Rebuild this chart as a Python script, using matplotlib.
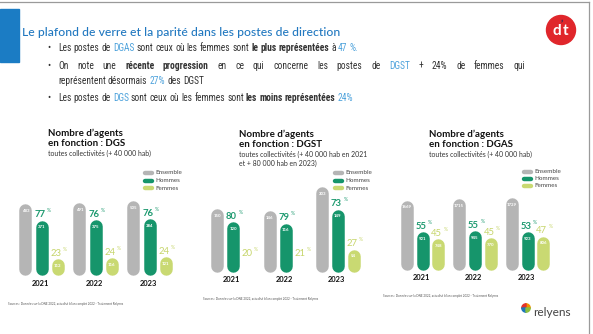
import matplotlib
matplotlib.use("Agg")
import matplotlib.pyplot as plt
from matplotlib import font_manager
from matplotlib.font_manager import FontProperties
from matplotlib.lines import Line2D
from matplotlib.patches import Rectangle, Circle, Wedge
from matplotlib.transforms import IdentityTransform

# donnees
years = ["2021", "2022", "2023"]
series = ["Ensemble", "Hommes", "Femmes"]

dgs_ensemble = [483, 491, 505]
dgs_hommes = [371, 375, 384]
dgs_femmes = [112, 116, 121]
dgs_pct_h = [77, 76, 76]
dgs_pct_f = [23, 24, 24]

dgst_ensemble = [150, 146, 203]
dgst_hommes = [120, 116, 149]
dgst_femmes = [30, 30, 54]
dgst_pct_h = [80, 79, 73]
dgst_pct_f = [20, 21, 27]

dgas_ensemble = [1669, 1715, 1729]
dgas_hommes = [921, 945, 923]
dgas_femmes = [748, 770, 806]
dgas_pct_h = [55, 55, 53]
dgas_pct_f = [45, 45, 47]

titre = "Le plafond de verre et la parité dans les postes de direction"
source = "Sources : Données sur la DNE 2022, actualisé bilan complet 2022 - Traitement Relyens"

W, H = 593, 334
fig = plt.figure(figsize=(W / 100, H / 100), dpi=100)
fig.patch.set_facecolor("white")
R = fig.canvas.get_renderer()

ttf = font_manager.fontManager.ttflist
names = {f.name for f in ttf}
PF = "Lato" if "Lato" in names else "DejaVu Sans"
TF = "Lato" if "Lato" in names else "DejaVu Sans"


def narrow(bold):
    # police etroite pour les puces (type Arial Narrow)
    def is_bold(f):
        w = f.weight if isinstance(f.weight, int) else {"bold": 700}.get(f.weight, 400)
        return w >= 600
    cands = [f for f in ttf if f.style == "normal" and is_bold(f) == bold
             and ("Narrow" in f.name or "Condensed" in f.name
                  or f.stretch in ("condensed", "semi-condensed"))]
    pref = ["Liberation Sans Narrow", "Roboto Condensed", "Open Sans Condensed",
            "DejaVu Sans"]
    for p in pref:
        for f in cands:
            if f.name == p:
                return FontProperties(fname=f.fname)
    if cands:
        return FontProperties(fname=cands[0].fname)
    return FontProperties(family="Liberation Sans", weight="bold" if bold else "normal")


NR = narrow(False)
NB = narrow(True)

GRIS = "#b5b5b5"
VERT = "#16956b"
CLAIR = "#c9d972"
BLEU = "#2178c0"
BLEU_CLAIR = "#4fa3dc"
TEXTE = "#333333"


def fx(x):
    return x / W


def fy(y):
    return 1 - y / H


def fit(t, width):
    w = t.get_window_extent(R).width
    t.set_fontsize(t.get_fontsize() * width / w)
    return t.get_fontsize()


# cadre + bandeau
fig.add_artist(Line2D([0, fx(589)], [fy(2), fy(2)], color="#9a9a9a", lw=0.9))
fig.add_artist(Line2D([fx(589), fx(589)], [fy(2), 0], color="#9a9a9a", lw=0.9))
fig.add_artist(Rectangle((0, fy(62)), fx(19), 53 / H, color="#1b7cc4",
                         transform=fig.transFigure))
t = fig.text(fx(22), fy(33), titre, color=BLEU, fontsize=10, family=TF, va="center",
             fontweight="medium")
fit(t, 316)

# logo dt
fig.add_artist(Circle((561, H - 30), 14.5, color="#e0262b", transform=IdentityTransform()))
fig.text(fx(561), fy(31), "d", color="white", fontsize=11, fontweight="bold",
         family=PF, ha="right", va="center")
fig.text(fx(562.5), fy(31), "t", color="white", fontsize=11, fontweight="bold",
         family=PF, ha="left", va="center")
fig.text(fx(561.5), fy(25), "’", color="#1c2b5a", fontsize=7, fontweight="bold",
         family=PF, ha="center", va="center")


# puces
def ligne(x, y, segs, size, justify=None):
    mots = []
    for txt, col, gras in segs:
        for m in txt.split(" "):
            if m:
                mots.append((m, col, gras))
    arts = [fig.text(0, 0, m, color=c, fontproperties=NB if g else NR, va="baseline")
            for m, c, g in mots]
    for a in arts:
        a.set_fontsize(size)
    larg = [a.get_window_extent(R).width for a in arts]
    a1 = fig.text(0, 0, "x x", fontproperties=NR)
    a2 = fig.text(0, 0, "xx", fontproperties=NR)
    a1.set_fontsize(size)
    a2.set_fontsize(size)
    esp = a1.get_window_extent(R).width - a2.get_window_extent(R).width
    a1.remove()
    a2.remove()
    if justify:
        esp = (justify - sum(larg)) / (len(arts) - 1)
    cx = x
    for a, w in zip(arts, larg):
        a.set_position((fx(cx), fy(y)))
        cx += w + esp
    return cx - esp - x


l1 = [("Les postes de ", TEXTE, False), ("DGAS", BLEU_CLAIR, False),
      (" sont ceux où les femmes sont ", TEXTE, False), ("le plus représentées", TEXTE, True),
      (" à ", TEXTE, False), ("47 %.", BLEU_CLAIR, False)]
l2 = [("On note une ", TEXTE, False), ("récente progression", TEXTE, True),
      (" en ce qui concerne les postes de ", TEXTE, False), ("DGST", BLEU_CLAIR, False),
      (" + 24% de femmes qui", TEXTE, False)]
l3 = [("représentent désormais ", TEXTE, False), ("27%", BLEU_CLAIR, False),
      (" des DGST", TEXTE, False)]
l4 = [("Les postes de ", TEXTE, False), ("DGS", BLEU_CLAIR, False),
      (" sont ceux où les femmes sont ", TEXTE, False), ("les moins représentées", TEXTE, True),
      (" ", TEXTE, False), ("24%", BLEU_CLAIR, False)]

w0 = ligne(0, -50, l1, 8)
for a in list(fig.texts):
    if a.get_position()[1] > 1.0:
        a.remove()
bsize = 8 * 300 / w0
for yy, segs, just in [(51, l1, None), (69, l2, 467), (84, l3, None), (101, l4, None)]:
    ligne(58, yy, segs, bsize, just)
for yy in [51, 69, 101]:
    b = fig.text(fx(49), fy(yy), "•", color=TEXTE, fontproperties=NR,
                 ha="center", va="baseline")
    b.set_fontsize(bsize)

# panneaux
panneaux = [
    dict(nom="DGS", ens=dgs_ensemble, hom=dgs_hommes, fem=dgs_femmes, ph=dgs_pct_h,
         pf=dgs_pct_f, sous=["toutes collectivités (+ 40 000 hab)"],
         tx=48, ty=133, lx=143, ly=[173, 181, 188], base=275, c0=41.5, sp=54,
         k=71 / 483, yr=283, sx=8, sy=304),
    dict(nom="DGST", ens=dgst_ensemble, hom=dgst_hommes, fem=dgst_femmes, ph=dgst_pct_h,
         pf=dgst_pct_f, sous=["toutes collectivités (+ 40 000 hab en 2021",
                              "et + 80 000 hab en 2023)"],
         tx=239, ty=134, lx=333, ly=[173, 181, 188], base=272, c0=233, sp=52.5,
         k=0.42, yr=279, sx=203, sy=299),
    dict(nom="DGAS", ens=dgas_ensemble, hom=dgas_hommes, fem=dgas_femmes, ph=dgas_pct_h,
         pf=dgas_pct_f, sous=["toutes collectivités (+ 40 000 hab)"],
         tx=429, ty=134, lx=522, ly=[172, 179, 186], base=270, c0=422.5, sp=52.5,
         k=72 / 1729, yr=277, sx=383, sy=296),
]

couleurs = [GRIS, VERT, CLAIR]
BAR_PX = 12.5
d = 0.3
AX_H = 120

tsize = None
for p in panneaux:
    t1 = fig.text(fx(p["tx"]), fy(p["ty"]), "Nombre d’agents", fontsize=7,
                  fontweight="bold", family=PF, color="#111111", va="center")
    if tsize is None:
        tsize = fit(t1, 75)
    else:
        t1.set_fontsize(tsize)
    fig.text(fx(p["tx"]), fy(p["ty"] + 10), "en fonction : " + p["nom"], fontsize=tsize,
             fontweight="bold", family=PF, color="#111111", va="center")
    for i, s in enumerate(p["sous"]):
        fig.text(fx(p["tx"]), fy(p["ty"] + 20 + 9 * i), s, fontsize=tsize * 0.7,
                 family=PF, color="#333333", va="center")
    for s, c, yy in zip(series, couleurs, p["ly"]):
        fig.add_artist(Line2D([fx(p["lx"] + 1.5), fx(p["lx"] + 8.5)], [fy(yy), fy(yy)],
                              color=c, lw=3.2, solid_capstyle="round"))
        fig.text(fx(p["lx"] + 12.5), fy(yy), s, fontsize=tsize * 0.64, family=PF,
                 color="#444444", va="center")
    st = fig.text(fx(p["sx"]), fy(p["sy"]), source, fontsize=3, family=PF,
                  color="#555555", va="center")
    fit(st, 112)

    left = p["c0"] - p["sp"] / 2
    ax = fig.add_axes([fx(left), fy(p["base"]), 3 * p["sp"] / W, AX_H / H])
    ymax = AX_H / p["k"]
    ax.set_xlim(-0.5, 2.5)
    ax.set_ylim(0, ymax)
    ax.axis("off")
    ypp = ymax / AX_H
    r = BAR_PX / 2 * ypp
    for j, vals in enumerate([p["ens"], p["hom"], p["fem"]]):
        for g, v in enumerate(vals):
            x = g + (j - 1) * d
            ax.plot([x, x], [r, max(v - r, r + 1e-6)], color=couleurs[j],
                    lw=BAR_PX * 0.72, solid_capstyle="round", clip_on=False)
            top = max(v, 2 * r)
            ax.annotate(str(v), (x, top), xytext=(0, -7), textcoords="offset pixels",
                        ha="center", va="center", fontsize=3.2, color="white",
                        family=PF, fontweight="bold")
            if j > 0:
                pct = p["ph"][g] if j == 1 else p["pf"][g]
                col = "#1e9a70" if j == 1 else "#c6d56a"
                ax.annotate(str(pct), (x, top), xytext=(4, 3), textcoords="offset pixels",
                            ha="right", va="baseline", fontsize=6.8, color=col,
                            family=PF, fontweight="bold" if j == 1 else "normal",
                            annotation_clip=False)
                ax.annotate("%", (x, top), xytext=(5.5, 8), textcoords="offset pixels",
                            ha="left", va="baseline", fontsize=3.6, color=col,
                            family=PF, annotation_clip=False)
    for g, yl in enumerate(years):
        fig.text(fx(p["c0"] + g * p["sp"] - 1.5), fy(p["yr"]), yl, fontsize=5.4,
                 fontweight="bold", family=PF, color="#111111", ha="center", va="center")

# logo relyens
for a0, c in zip([0, 90, 180, 270], ["#f29100", "#e4322b", "#1d76bb", "#8bbf3f"]):
    fig.add_artist(Wedge((526, H - 308), 4.2, a0, a0 + 90, color=c,
                         transform=IdentityTransform()))
rt = fig.text(fx(533), fy(312), "relyens", fontsize=9, family=PF, color="#444444",
              va="center")
fit(rt, 38)

fig.savefig("out.png", dpi=100, facecolor="white")
